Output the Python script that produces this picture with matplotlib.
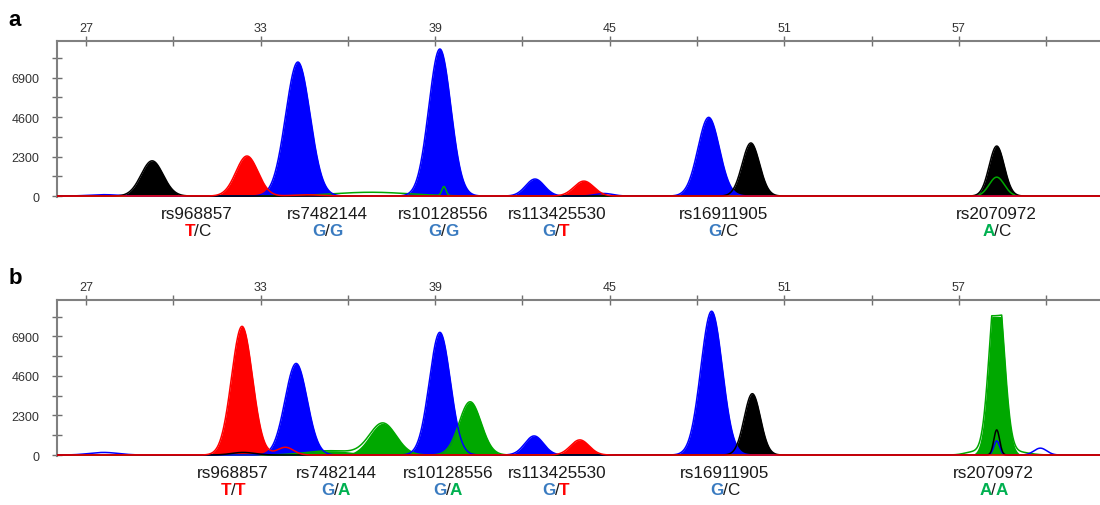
import numpy as np
import matplotlib
matplotlib.use("Agg")
import matplotlib.pyplot as plt
from matplotlib.ticker import FixedLocator

plt.rcParams['font.family'] = ['Liberation Sans', 'DejaVu Sans']

# ---------------- data ----------------
x_major = [27, 33, 39, 45, 51, 57]
x_minor = [30, 36, 42, 48, 54, 60]
y_major = [0, 2300, 4600, 6900]
y_minor = [1150, 3450, 5750, 8050]

snp_names = ['rs968857', 'rs7482144', 'rs10128556', 'rs113425530', 'rs16911905', 'rs2070972']

snp_x_a = [30.8, 35.3, 39.27, 43.2, 48.9, 58.3]
genotypes_a = [('T', 'C'), ('G', 'G'), ('G', 'G'), ('G', 'T'), ('G', 'C'), ('A', 'C')]
snp_x_b = [32.05, 35.6, 39.45, 43.2, 48.96, 58.2]
genotypes_b = [('T', 'T'), ('G', 'A'), ('G', 'A'), ('G', 'T'), ('G', 'C'), ('A', 'A')]

# peaks: dye channel, position, height, width, filled, saturated
peak_ch_a = ['C', 'T', 'G', 'G', 'G', 'T', 'G', 'C', 'C', 'A', 'A', 'A', 'G', 'G', 'T']
peak_pos_a = [29.27, 32.53, 34.28, 39.16, 42.43, 44.11, 48.4, 49.85, 58.3, 58.3, 36.8, 39.3, 27.6, 44.8, 34.6]
peak_h_a = [2050, 2330, 7800, 8560, 990, 870, 4580, 3090, 2910, 1100, 220, 520, 80, 150, 70]
peak_w_a = [0.38, 0.38, 0.42, 0.38, 0.32, 0.34, 0.37, 0.30, 0.26, 0.26, 1.3, 0.07, 0.5, 0.3, 0.5]
peak_fill_a = [1, 1, 1, 1, 1, 1, 1, 1, 1, 0, 0, 0, 0, 0, 0]
peak_sat_a = [0] * 15

peak_ch_b = ['G', 'T', 'C', 'T', 'G', 'A', 'A', 'G', 'A', 'G', 'T', 'G', 'C', 'A', 'A', 'A', 'C', 'G', 'G']
peak_pos_b = [27.6, 32.36, 32.4, 33.85, 34.22, 35.4, 37.2, 39.16, 40.2, 42.4, 43.97, 48.5, 49.9, 58.3, 57.5, 59.0, 58.3, 58.3, 59.8]
peak_h_b = [150, 7490, 150, 450, 5330, 250, 1850, 7140, 3100, 1110, 880, 8370, 3570, 10200, 180, 180, 1460, 820, 400]
peak_w_b = [0.5, 0.36, 0.4, 0.28, 0.38, 0.8, 0.46, 0.36, 0.38, 0.32, 0.32, 0.37, 0.28, 0.25, 0.3, 0.4, 0.1, 0.1, 0.22]
peak_fill_b = [0, 1, 0, 0, 1, 1, 1, 1, 1, 1, 1, 1, 1, 1, 0, 0, 0, 0, 0]
peak_sat_b = [0] * 13 + [1] + [0] * 5
saturation = 8070

channel_colors = {'G': '#0000ff', 'A': '#00a800', 'T': '#ff0000', 'C': '#000000'}
allele_colors = {'G': '#3a7bc0', 'A': '#00b050', 'T': '#ff0000', 'C': '#1a1a1a'}

# ---------------- figure ----------------
fig = plt.figure(figsize=(11, 5.06), dpi=100)
ax_a = fig.add_axes([0.0518, 0.6055, 0.9482, 0.3115])
ax_b = fig.add_axes([0.0518, 0.0937, 0.9482, 0.3115])

xs = np.linspace(26.0, 62.0, 4000)


def peak_curve(pos, h, w, sat):
    y = h * np.exp(-0.5 * ((xs - pos) / w) ** 2)
    return np.minimum(y, saturation) if sat else y


def draw_panel(ax, ch, pos, h, w, fill, sat, snp_x, genos):
    # filled peaks
    for c in ['C', 'T', 'G', 'A']:
        for i in range(len(ch)):
            if ch[i] == c and fill[i]:
                ax.fill_between(xs, 0, peak_curve(pos[i], h[i], w[i], sat[i]),
                                color=channel_colors[c], lw=0, zorder=2)
    # traces
    for c in ['A', 'G', 'C', 'T']:
        tr = np.zeros_like(xs)
        for i in range(len(ch)):
            if ch[i] == c:
                tr = tr + peak_curve(pos[i], h[i], w[i], sat[i])
        ax.plot(xs, tr, color=channel_colors[c], lw=1.1, zorder=3)

    ax.set_xlim(26.0, 61.85)
    ax.set_ylim(-150, 9025)
    for s in ['bottom', 'right']:
        ax.spines[s].set_visible(False)
    for s in ['top', 'left']:
        ax.spines[s].set_color('#808080')
        ax.spines[s].set_linewidth(1.5)
    ax.spines['left'].set_bounds(-60, 9025)
    ax.xaxis.set_major_locator(FixedLocator(x_major))
    ax.xaxis.set_minor_locator(FixedLocator(x_minor))
    ax.yaxis.set_major_locator(FixedLocator(y_major))
    ax.yaxis.set_minor_locator(FixedLocator(y_minor))
    ax.xaxis.tick_top()
    ax.tick_params(axis='x', which='both', direction='inout', length=7, width=1,
                   color='#707070', labelsize=9, labelcolor='#333333', pad=1.5,
                   bottom=False, top=True, labeltop=True, labelbottom=False)
    ax.tick_params(axis='y', which='both', direction='inout', length=7, width=1,
                   color='#707070', labelsize=9, labelcolor='#333333', pad=9)

    for name, xv, g in zip(snp_names, snp_x, genos):
        ax.annotate(name, xy=(xv, 0), xytext=(0, -17), textcoords='offset pixels',
                    ha='center', va='center', fontsize=12.3, color='#1a1a1a')
        ax.annotate('/', xy=(xv, 0), xytext=(0, -34), textcoords='offset pixels',
                    ha='center', va='center', fontsize=12.3, color='#1a1a1a')
        for al, off, ha in [(g[0], -1.7, 'right'), (g[1], 1.7, 'left')]:
            ax.annotate(al, xy=(xv, 0), xytext=(off, -34), textcoords='offset pixels',
                        ha=ha, va='center', fontsize=12.3, color=allele_colors[al],
                        fontweight='normal' if al == 'C' else 'bold')


draw_panel(ax_a, peak_ch_a, peak_pos_a, peak_h_a, peak_w_a, peak_fill_a, peak_sat_a, snp_x_a, genotypes_a)
draw_panel(ax_b, peak_ch_b, peak_pos_b, peak_h_b, peak_w_b, peak_fill_b, peak_sat_b, snp_x_b, genotypes_b)

fig.text(15 / 1100, 1 - 20 / 506, 'a', fontsize=16, fontweight='bold', ha='center', va='center')
fig.text(15 / 1100, 1 - 278 / 506, 'b', fontsize=16, fontweight='bold', ha='center', va='center')

fig.savefig('out.png', dpi=100)
